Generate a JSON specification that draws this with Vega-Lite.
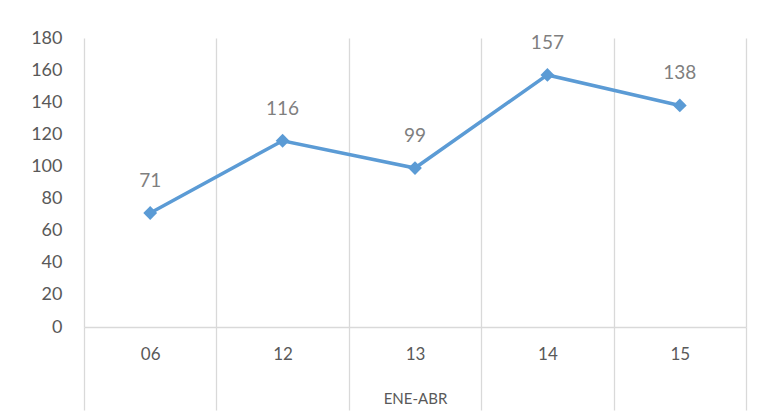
{
  "$schema": "https://vega.github.io/schema/vega-lite/v6.json",
  "width": 662,
  "height": 289,
  "autosize": "none",
  "padding": {"left": 84, "top": 38, "right": 19, "bottom": 90},
  "background": "white",
  "config": {"view": {"stroke": null}},
  "data": {"values": [
    {"periodo": "06", "valor": 71},
    {"periodo": "12", "valor": 116},
    {"periodo": "13", "valor": 99},
    {"periodo": "14", "valor": 157},
    {"periodo": "15", "valor": 138}
  ]},
  "encoding": {
    "x": {"field": "periodo", "type": "ordinal", "sort": null,
      "scale": {"paddingInner": 0, "paddingOuter": 0},
      "axis": {"title": "ENE-ABR", "titleFont": "Lato", "titleFontSize": 15, "titleFontWeight": "normal", "titleColor": "#595959", "titleY": 71, "titleBaseline": "middle",
        "labelFont": "Lato", "labelFontSize": 17, "labelColor": "#595959", "labelAngle": 0, "labelPadding": -56, "labelBaseline": "middle",
        "tickBand": "extent", "tickSize": 83, "tickColor": "#D9D9D9", "tickWidth": 1.3,
        "grid": true, "gridColor": "#D9D9D9", "gridWidth": 1.3,
        "domainColor": "#D9D9D9", "domainWidth": 1.5}},
    "y": {"field": "valor", "type": "quantitative",
      "scale": {"domain": [0, 180]},
      "axis": {"title": null, "values": [0,20,40,60,80,100,120,140,160,180], "grid": false, "domain": false, "ticks": false,
        "labelFont": "Lato", "labelFontSize": 18, "labelColor": "#595959", "labelPadding": 22}}
  },
  "layer": [
    {"mark": {"type": "line", "color": "#5B9BD5", "strokeWidth": 3.5}},
    {"mark": {"type": "point", "shape": "diamond", "filled": true, "color": "#5B9BD5", "size": 190, "opacity": 1}},
    {"mark": {"type": "text", "font": "Lato", "fontSize": 19, "color": "#7F7F7F", "baseline": "middle", "dy": -32},
     "encoding": {"text": {"field": "valor", "type": "quantitative"}}}
  ]
}
